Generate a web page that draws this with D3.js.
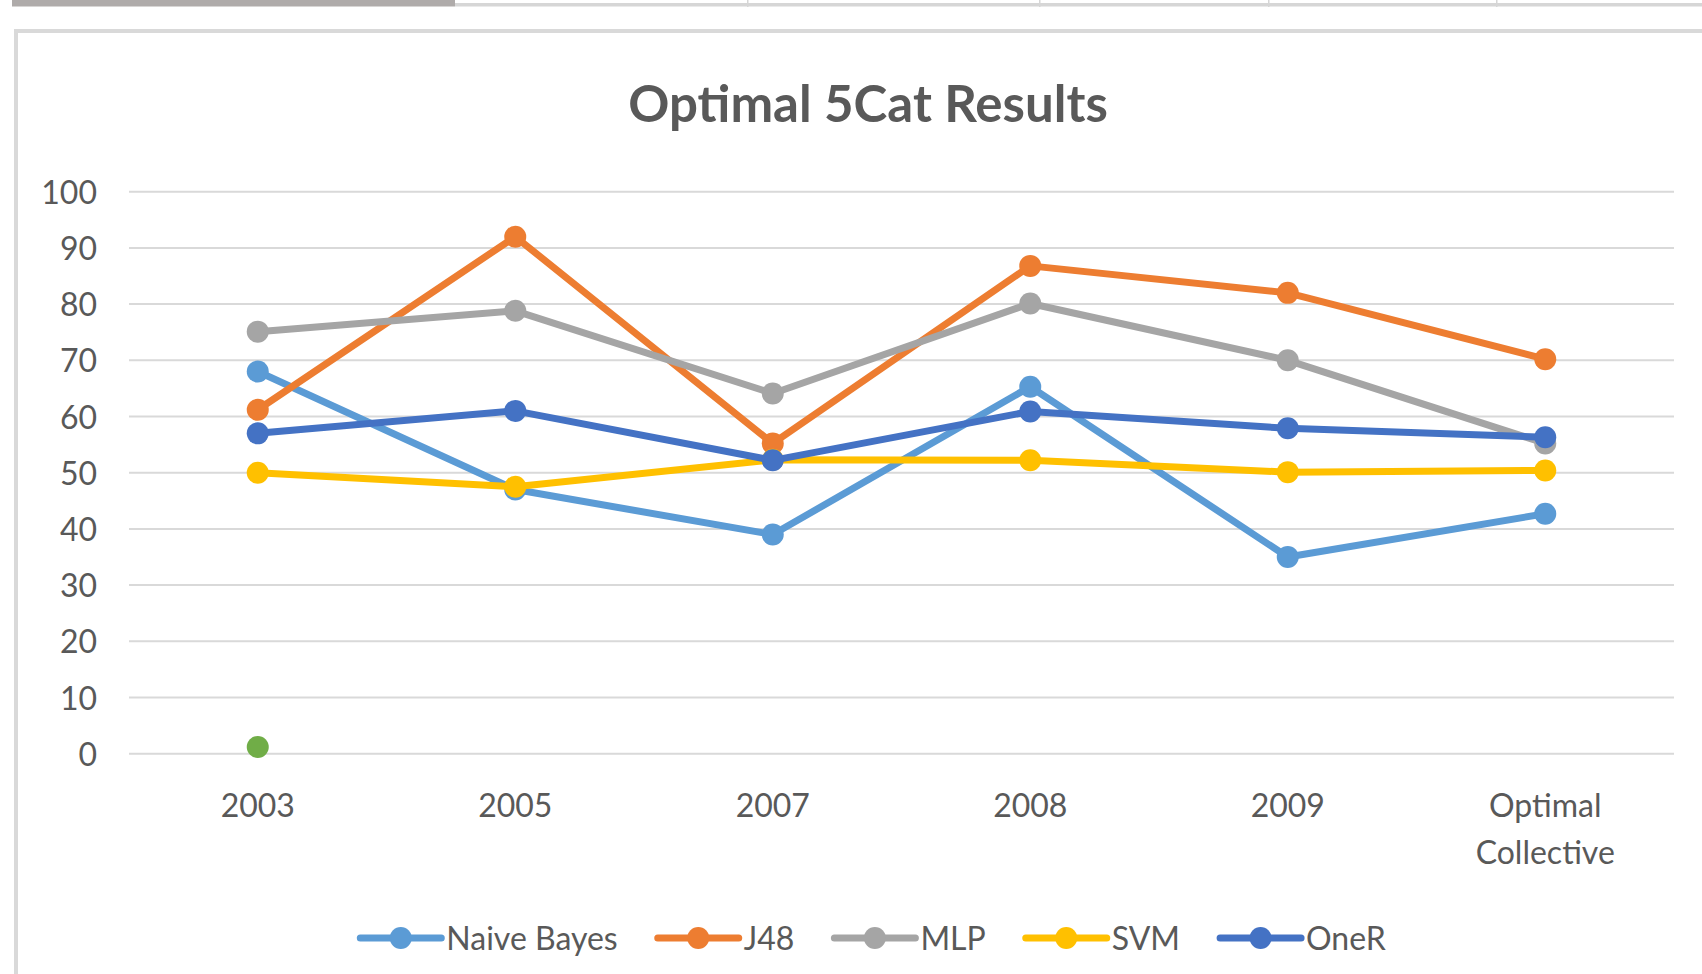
<!DOCTYPE html>
<html lang="en">

<head>
    <meta charset="UTF-8">
    <title>Optimal 5Cat Results</title>
    <script src="https://cdn.jsdelivr.net/npm/d3@7"></script>
    <style>
        body {
            margin: 0;
            background-color: white;
        }

        svg {
            display: block;
            font-family: Lato, "Open Sans", sans-serif;
        }
    </style>
</head>

<body>

    <svg width="1702" height="974" id="chart"></svg>

    <script>
        // chart data
        const categories = ["2003", "2005", "2007", "2008", "2009", "Optimal Collective"];
        const seriesNames = ["Naive Bayes", "J48", "MLP", "SVM", "OneR"];
        const seriesColors = ["#5b9bd5", "#ed7d31", "#a5a5a5", "#ffc000", "#4472c4"];

        const naiveBayes = [68, 47, 39, 65.3, 35, 42.7];
        const j48 = [61.2, 92, 55.2, 86.8, 82, 70.2];
        const mlp = [75.1, 78.8, 64.1, 80.1, 70, 55.2];
        const svm = [50, 47.5, 52.3, 52.2, 50.1, 50.4];
        const oneR = [57, 61, 52.2, 60.9, 57.9, 56.3];
        // stray extra point (not in legend)
        const extraPoint = [1.2];
        const extraColor = "#70ad47";

        const yTicks = [0, 10, 20, 30, 40, 50, 60, 70, 80, 90, 100];

        const allSeries = [naiveBayes, j48, mlp, svm, oneR];

        const svg = d3.select("#chart");
        const textColor = "#595959";

        // top strip of the sheet tabs
        svg.append("rect").attr("x", 455).attr("y", 3).attr("width", 1247).attr("height", 3.5).attr("fill", "#d6d6d6");
        svg.append("rect").attr("x", 12).attr("y", 0).attr("width", 443).attr("height", 6.5).attr("fill", "#afabaa");
        [747, 1039, 1268, 1496].forEach(function (x) {
            svg.append("rect").attr("x", x).attr("y", 0).attr("width", 1.5).attr("height", 7).attr("fill", "#d6d6d6");
        });

        // chart area frame
        svg.append("rect").attr("x", 14).attr("y", 29).attr("width", 1700).attr("height", 4).attr("fill", "#d9d9d9");
        svg.append("rect").attr("x", 14).attr("y", 29).attr("width", 4).attr("height", 960).attr("fill", "#d9d9d9");

        // scales
        const x = d3.scaleBand().domain(categories).range([129, 1674]).padding(0);
        const y = d3.scaleLinear().domain([0, 100]).range([753.7, 191.7]);
        const cx = function (c) { return x(c) + x.bandwidth() / 2; };

        // gridlines
        svg.append("g")
            .selectAll("line")
            .data(yTicks)
            .join("line")
            .attr("x1", 129)
            .attr("x2", 1674)
            .attr("y1", d => y(d))
            .attr("y2", d => y(d))
            .attr("stroke", "#d9d9d9")
            .attr("stroke-width", 2);

        // y axis labels
        const yAxis = svg.append("g")
            .attr("transform", "translate(97,0)")
            .call(d3.axisLeft(y).tickValues(yTicks).tickSize(0).tickPadding(0));
        yAxis.select(".domain").remove();
        yAxis.selectAll("text")
            .attr("font-family", "Lato, sans-serif")
            .attr("font-size", 32)
            .attr("fill", textColor)
            .attr("dy", "0.36em");

        // x axis labels
        const xAxis = svg.append("g")
            .attr("transform", "translate(0,753.7)")
            .call(d3.axisBottom(x).tickSize(0).tickPadding(0));
        xAxis.select(".domain").remove();
        xAxis.selectAll("text")
            .attr("font-family", "Lato, sans-serif")
            .attr("font-size", 32)
            .attr("fill", textColor)
            .attr("y", 0)
            .attr("dy", null)
            .each(function (d) {
                const t = d3.select(this);
                const words = d.split(" ");
                t.text(null);
                words.forEach(function (w, i) {
                    t.append("tspan")
                        .attr("x", 0)
                        .attr("y", 63 + i * 47)
                        .text(w);
                });
            });

        // title
        svg.append("text")
            .attr("x", 868)
            .attr("y", 121.7)
            .attr("text-anchor", "middle")
            .attr("font-family", "Lato, sans-serif")
            .attr("font-weight", "bold")
            .attr("font-size", 51)
            .attr("fill", textColor)
            .text("Optimal 5Cat Results");

        // series lines + markers
        const line = d3.line()
            .x((d, i) => cx(categories[i]))
            .y(d => y(d));

        allSeries.forEach(function (values, s) {
            const g = svg.append("g");
            g.append("path")
                .datum(values)
                .attr("d", line)
                .attr("fill", "none")
                .attr("stroke", seriesColors[s])
                .attr("stroke-width", 7)
                .attr("stroke-linejoin", "round")
                .attr("stroke-linecap", "round");
            g.selectAll("circle")
                .data(values)
                .join("circle")
                .attr("cx", (d, i) => cx(categories[i]))
                .attr("cy", d => y(d))
                .attr("r", 11)
                .attr("fill", seriesColors[s]);
        });

        svg.append("g")
            .selectAll("circle")
            .data(extraPoint)
            .join("circle")
            .attr("cx", (d, i) => cx(categories[i]))
            .attr("cy", d => y(d))
            .attr("r", 11)
            .attr("fill", extraColor);

        // legend
        const legend = svg.append("g");
        const items = seriesNames.map(function (name, i) {
            const g = legend.append("g");
            g.append("line")
                .attr("x1", 0).attr("x2", 81)
                .attr("y1", 0).attr("y2", 0)
                .attr("stroke", seriesColors[i])
                .attr("stroke-width", 7)
                .attr("stroke-linecap", "round");
            g.append("circle")
                .attr("cx", 40.5).attr("cy", 0).attr("r", 11)
                .attr("fill", seriesColors[i]);
            const t = g.append("text")
                .attr("x", 86)
                .attr("y", 0)
                .attr("dy", "0.36em")
                .attr("font-family", "Lato, sans-serif")
                .attr("font-size", 32)
                .attr("fill", textColor)
                .text(name);
            return { g: g, w: 86 + t.node().getComputedTextLength() };
        });
        const gap = 40;
        const total = d3.sum(items, d => d.w) + gap * (items.length - 1);
        let pos = 873 - total / 2;
        items.forEach(function (it) {
            it.g.attr("transform", "translate(" + pos + ",938)");
            pos += it.w + gap;
        });
    </script>

</body>

</html>
